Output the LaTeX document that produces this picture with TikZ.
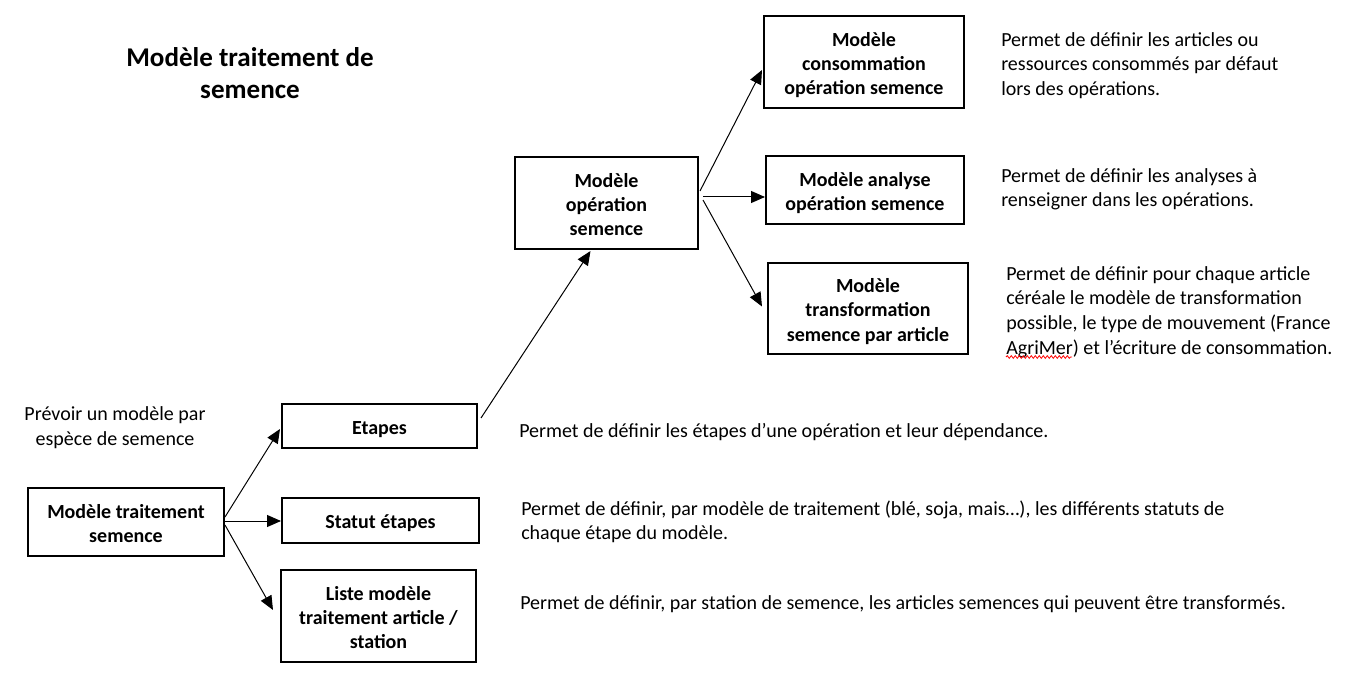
\documentclass[tikz,border=0pt]{standalone}
\usepackage{fontspec}
\setmainfont{Carlito}
\usetikzlibrary{arrows.meta,calc,decorations.pathmorphing}
\newcommand{\boxlines}[1]{\raisebox{-2.6pt}[\height][\depth]{\begin{tabular}{@{}c@{}}#1\end{tabular}}}
\begin{document}
\begin{tikzpicture}[x=0.75pt,y=-0.75pt,
  box/.style={draw=black,line width=1.5pt,inner sep=0pt,
    font=\fontsize{15}{18.2}\selectfont\bfseries},
  txt/.style={align=left,inner sep=0pt,anchor=west,font=\fontsize{15}{18.4}\selectfont},
  arr/.style={line width=0.75pt,-{Triangle[length=10.5pt,width=9pt]}}]
\useasboundingbox (0,0) rectangle (1346,677);
% title
\node[align=center,inner sep=0pt,font=\fontsize{20.3}{24.2}\selectfont\bfseries] (title) at (250,73) {Modèle traitement de\\semence};
\node[align=center,inner sep=0pt,font=\fontsize{15}{18.4}\selectfont] (prevoir) at (115,427.5) {Prévoir un modèle par\\espèce de semence};
% boxes
\node[box,minimum width=147pt,minimum height=51pt] (trait) at (126,522) {\boxlines{Modèle traitement\\semence}};
\node[box,minimum width=146.25pt,minimum height=33pt] (etapes) at (379.5,426) {\boxlines{Etapes}};
\node[box,minimum width=147.75pt,minimum height=33.75pt] (statut) at (380.5,520.5) {\boxlines{Statut étapes}};
\node[box,minimum width=146.25pt,minimum height=69pt] (liste) at (378.5,616) {\boxlines{Liste modèle\\traitement article /\\station}};
\node[box,minimum width=137.25pt,minimum height=69pt] (oper) at (606.5,203) {\boxlines{Modèle\\opération\\semence}};
\node[box,minimum width=150pt,minimum height=69pt] (cons) at (864,62) {\boxlines{Modèle\\consommation\\opération semence}};
\node[box,minimum width=148.5pt,minimum height=51pt] (anal) at (865,190) {\boxlines{Modèle analyse\\opération semence}};
\node[box,minimum width=150pt,minimum height=68.25pt] (trans) at (868,308.5) {\boxlines{Modèle\\transformation\\semence par article}};
% descriptions
\node[txt] (tcons) at (1001,65.5) {Permet de définir les articles ou\\ressources consommés par défaut\\lors des opérations.};
\node[txt] (tanal) at (1001,189.5) {Permet de définir les analyses à\\renseigner dans les opérations.};
\node[txt] (ttrans) at (1006,312) {Permet de définir pour chaque article\\céréale le modèle de transformation\\possible, le type de mouvement (France\\AgriMer) et l’écriture de consommation.};
\node[txt] (tetapes) at (519,432) {Permet de définir les étapes d’une opération et leur dépendance.};
\node[txt] (tstatut) at (521,522) {Permet de définir, par modèle de traitement (blé, soja, mais…), les différents statuts de\\chaque étape du modèle.};
\node[txt] (tliste) at (520,604) {Permet de définir, par station de semence, les articles semences qui peuvent être transformés.};
% red spell-check squiggle
\coordinate (sq1) at (1006,357);
\coordinate (sq2) at (1072,357);
\draw[red,line width=0.6pt,decorate,decoration={snake,amplitude=1pt,segment length=3pt}] (sq1) -- (sq2);
% arrows
\draw[arr] ($(trait.east)+(0,-5)$) -- ($(etapes.west)+(-1,3)$);
\draw[arr] ($(trait.east)+(0,-1)$) -- ($(statut.west)+(0,0.5)$);
\draw[arr] ($(trait.east)+(0,3)$) -- ($(liste.west)+(-7,-6)$);
\draw[arr] ($(etapes.east)+(3,-8)$) -- ($(oper.south)+(-16,1)$);
\draw[arr] ($(oper.east)+(1,-12)$) -- ($(cons.west)+(-1,8)$);
\draw[arr] ($(oper.east)+(4,-6)$) -- ($(anal.west)+(0,7)$);
\draw[arr] ($(oper.east)+(4,-3)$) -- ($(trans.west)+(-5,-2)$);
\end{tikzpicture}
\end{document}
